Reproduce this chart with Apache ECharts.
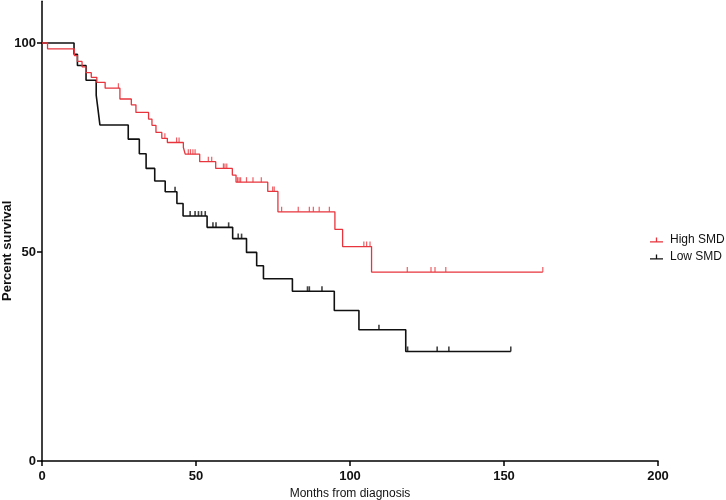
<!DOCTYPE html>
<html>
<head>
<meta charset="utf-8">
<script src="https://cdn.jsdelivr.net/npm/echarts@6/dist/echarts.min.js"></script>
<style>html,body{margin:0;padding:0;background:#fff}#c{width:726px;height:500px}</style>
</head>
<body>
<div id="c"></div>
<script>
// High SMD (red) step points: time of event, survival after event
const highTime = [0, 1.8, 10.5, 11.5, 13.0, 14.2, 16.0, 17.8, 20.5, 25.3, 29.0, 30.5, 34.6, 35.7, 37.0, 38.9, 40.7, 45.9, 46.5, 51.2, 56.4, 61.8, 63.0, 73.3, 76.6, 95.1, 97.6, 107.0];
const highSurvival = [100, 98.6, 97.0, 95.6, 94.3, 92.9, 91.8, 90.6, 89.2, 86.6, 85.2, 83.4, 81.8, 80.3, 78.6, 77.2, 76.2, 75.0, 73.4, 71.6, 70.0, 68.4, 66.7, 64.5, 59.6, 55.4, 51.3, 45.2];
const highCensor = [24.8, 39.9, 43.7, 44.5, 47.5, 48.2, 49.0, 49.7, 54.0, 55.1, 58.9, 59.4, 60.0, 63.5, 64.0, 64.5, 66.4, 68.5, 71.2, 74.9, 75.4, 77.8, 83.2, 86.8, 88.1, 90.0, 93.3, 104.5, 105.4, 106.5, 118.6, 126.3, 127.6, 131.1, 162.6];

// Low SMD (black)
const lowTime = [0, 10.4, 11.5, 14.3, 17.6, 18.2, 18.8, 28.0, 31.6, 33.8, 36.6, 40.0, 43.8, 45.8, 53.6, 61.9, 66.4, 69.7, 71.9, 81.3, 94.9, 102.9, 118.1];
const lowSurvival = [100, 97.3, 94.6, 91.1, 87.5, 84.0, 80.4, 77.0, 73.5, 70.0, 67.0, 64.4, 61.6, 58.6, 55.9, 53.2, 49.9, 46.7, 43.6, 40.6, 36.0, 31.4, 26.2];
const lowCensor = [43.2, 48.1, 49.7, 50.8, 51.8, 53.0, 55.5, 56.5, 60.6, 63.7, 64.8, 86.2, 86.8, 90.9, 109.4, 118.7, 128.3, 132.1, 152.2];

const xTicks = [0, 50, 100, 150, 200];
const yTicks = [0, 50, 100];

function stepData(times, surv, censors) {
  const d = times.map((t, i) => [t, surv[i]]);
  const end = censors[censors.length - 1];
  if (end > times[times.length - 1]) d.push([end, surv[surv.length - 1]]);
  return d;
}
function censorData(times, surv, censors) {
  return censors.map(c => {
    let v = surv[0];
    for (let i = 0; i < times.length; i++) if (times[i] <= c) v = surv[i];
    return [c, v];
  });
}

const RED = '#e8343c';
const BLACK = '#111111';
const iconPath = 'path://M0,8H20V10H0Z M9,2H11V8H9Z';
const font = 'Liberation Sans, Arial, sans-serif';

const chart = echarts.init(document.getElementById('c'), null, {renderer: 'canvas'});
chart.setOption({
  animation: false,
  backgroundColor: '#fff',
  grid: {left: 42, right: 68, top: 1.2, bottom: 39, containLabel: false, outerBoundsMode: 'none'},
  xAxis: {
    type: 'value', min: 0, max: 200, interval: 50,
    name: 'Months from diagnosis', nameLocation: 'middle', nameGap: 25,
    nameTextStyle: {fontFamily: font, fontSize: 12, color: '#111'},
    axisLine: {show: true, lineStyle: {color: '#000', width: 1.5}},
    axisTick: {show: true, length: 5, lineStyle: {color: '#000', width: 1.5}},
    axisLabel: {margin: 9, fontFamily: font, fontSize: 13, fontWeight: 'bold', color: '#111', customValues: xTicks},
    splitLine: {show: false}
  },
  yAxis: {
    type: 'value', min: 0, max: 110, interval: 50,
    axisLine: {show: true, lineStyle: {color: '#000', width: 1.5}},
    axisTick: {show: true, length: 5, lineStyle: {color: '#000', width: 1.5}, customValues: yTicks},
    axisLabel: {margin: 6, fontFamily: font, fontSize: 13, fontWeight: 'bold', color: '#111', customValues: yTicks},
    splitLine: {show: false}
  },
  graphic: [{
    type: 'text', x: 1, y: 301, rotation: Math.PI / 2,
    style: {text: 'Percent survival', font: 'bold 13px ' + font, fill: '#111', align: 'left', verticalAlign: 'top'}
  }],
  legend: {
    left: 645, top: 229, orient: 'vertical', itemGap: 5,
    itemWidth: 13, itemHeight: 8, itemStyle: {borderWidth: 0},
    textStyle: {fontFamily: font, fontSize: 12, color: '#111', padding: [0, 0, 0, 2]},
    data: [{name: 'High SMD', icon: iconPath}, {name: 'Low SMD', icon: iconPath}]
  },
  series: [
    {name: 'High SMD', type: 'line', step: 'end', showSymbol: false, symbol: 'none',
     color: RED, lineStyle: {color: RED, width: 1.3}, data: stepData(highTime, highSurvival, highCensor), z: 3},
    {name: 'Low SMD', type: 'line', step: 'end', showSymbol: false, symbol: 'none',
     color: BLACK, lineStyle: {color: BLACK, width: 1.6}, data: stepData(lowTime, lowSurvival, lowCensor), z: 2},
    {name: 'High censored', type: 'scatter', symbol: 'rect', symbolSize: [1.2, 5], symbolOffset: [0, -2.5],
     itemStyle: {color: RED}, data: censorData(highTime, highSurvival, highCensor), z: 4},
    {name: 'Low censored', type: 'scatter', symbol: 'rect', symbolSize: [1.6, 5], symbolOffset: [0, -2.5],
     itemStyle: {color: BLACK}, data: censorData(lowTime, lowSurvival, lowCensor), z: 4}
  ]
});
</script>
</body>
</html>
